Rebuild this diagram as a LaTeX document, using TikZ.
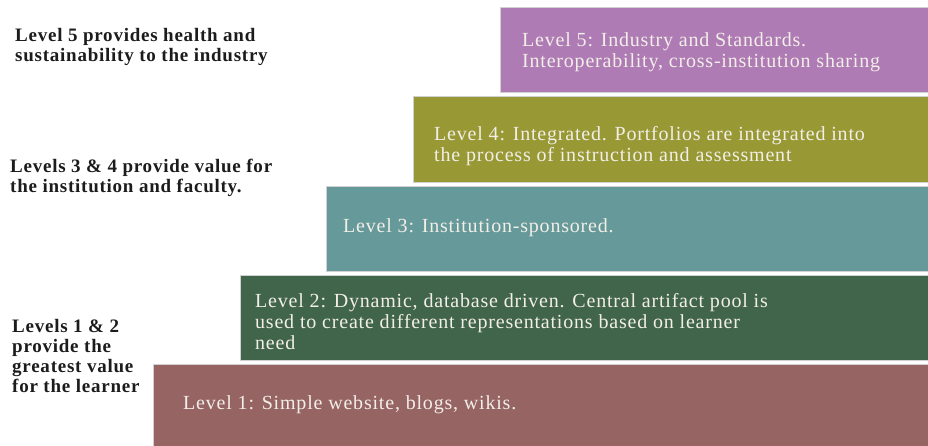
\documentclass[tikz,border=0pt]{standalone}
\usepackage{fontspec}
\setmainfont{Liberation Serif}
\definecolor{lvlfive}{RGB}{174,123,180}
\definecolor{lvlfour}{RGB}{152,153,53}
\definecolor{lvlthree}{RGB}{102,153,153}
\definecolor{lvltwo}{RGB}{65,101,74}
\definecolor{lvlone}{RGB}{150,100,98}
\definecolor{stairwhite}{RGB}{242,238,232}
\definecolor{noteblack}{RGB}{28,28,28}
\tikzset{
  stair/.style={draw=white!82!black, line width=0.9pt},
  stairtext/.style={anchor=north west, inner sep=0pt, align=left, text=stairwhite, font=\fontsize{20}{21}\selectfont\addfontfeatures{LetterSpace=4}},
  sidenote/.style={anchor=north west, inner sep=0pt, align=left, text=noteblack, font=\bfseries\fontsize{19}{20}\selectfont\addfontfeatures{LetterSpace=4}}
}
\begin{document}
\begin{tikzpicture}[x=1pt, y=-1pt]
			%%%%% START %%%%%
			\useasboundingbox (0, 0) rectangle (928, 446);
			
			% the five steps
			\draw[stair, fill=lvlfive] (500, 7) rectangle (930, 92);
			\draw[stair, fill=lvlfour] (413, 96) rectangle (930, 182);
			\draw[stair, fill=lvlthree] (326, 186) rectangle (930, 271);
			\draw[stair, fill=lvltwo] (240, 275) rectangle (930, 360);
			\draw[stair, fill=lvlone] (153, 364) rectangle (930, 448);
			
			\node[stairtext] (fivetext) at (522, 32.3) {Level 5: Industry and Standards.\\Interoperability, cross-institution sharing};
			\node[stairtext] (fourtext) at (434, 126.3) {Level 4: Integrated. Portfolios are integrated into\\the process of instruction and assessment};
			\node[stairtext] (threetext) at (343, 218.3) {Level 3: Institution-sponsored.};
			\node[stairtext] (twotext) at (255, 293.3) {Level 2: Dynamic, database driven. Central artifact pool is\\used to create different representations based on learner\\need};
			\node[stairtext] (onetext) at (183, 395.3) {Level 1: Simple website, blogs, wikis.};
			
			% notes on the left
			\node[sidenote] (fivenote) at (15, 28) {Level 5 provides health and\\sustainability to the industry};
			\node[sidenote] (fournote) at (10, 159) {Levels 3 \& 4 provide value for\\the institution and faculty.};
			\node[sidenote] (onenote) at (12, 319) {Levels 1 \& 2\\provide the\\greatest value\\for the learner};
			
			%%%%% END %%%%%
\end{tikzpicture}
\end{document}
